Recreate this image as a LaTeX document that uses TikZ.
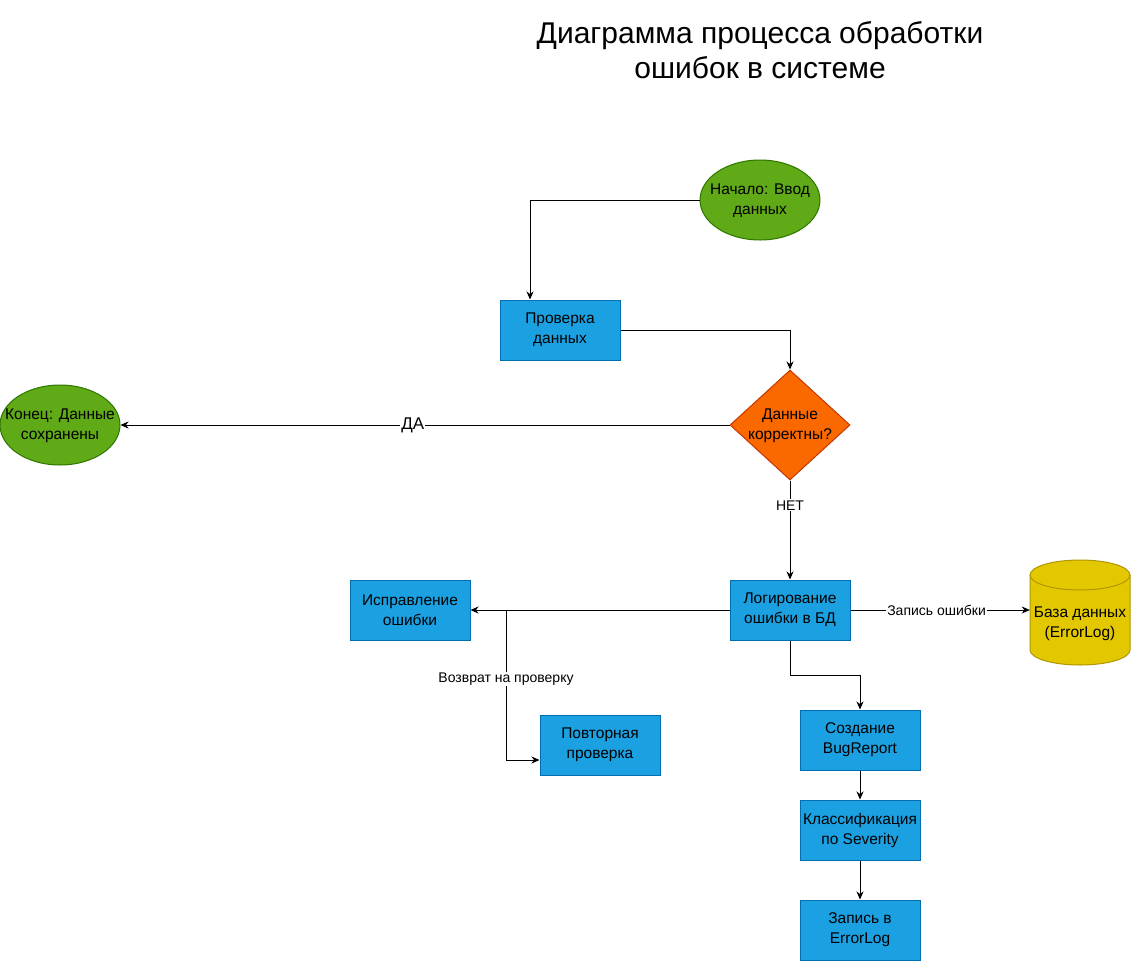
\documentclass[tikz,border=0pt]{standalone}
\usepackage{fontspec}
\setmainfont{Liberation Sans}
\usetikzlibrary{shapes.geometric,arrows.meta}
\definecolor{gfill}{HTML}{60A917}\definecolor{gdraw}{HTML}{2D7600}
\definecolor{bfill}{HTML}{1BA1E2}\definecolor{bdraw}{HTML}{006EAF}
\definecolor{ofill}{HTML}{FA6800}\definecolor{odraw}{HTML}{C73500}
\definecolor{yfill}{HTML}{E3C800}\definecolor{ydraw}{HTML}{B09500}
\tikzset{
  txt/.style={font=\fontsize{15.5}{20}\selectfont, align=center, inner sep=0pt},
  box/.style={draw=bdraw, fill=bfill, line width=1pt, minimum width=120pt, minimum height=60pt, inner sep=0pt, txt},
  term/.style={ellipse, draw=gdraw, fill=gfill, line width=1pt, minimum width=120pt, minimum height=80pt, inner sep=0pt},
  decision/.style={diamond, draw=odraw, fill=ofill, line width=1pt, minimum width=120pt, minimum height=110pt, inner sep=0pt},
  dbshape/.style={fill=yfill, draw=ydraw, line width=1pt},
  arr/.style={line width=1pt, -{Stealth[length=8pt,width=7pt,inset=2.5pt]}},
  elabel/.style={fill=white, inner sep=1pt, font=\fontsize{14}{17}\selectfont},
}
\begin{document}
\begin{tikzpicture}[x=1pt, y=-1pt]
\useasboundingbox (0,0) rectangle (1131,961);
\node[align=center, font=\fontsize{30}{35}\selectfont] (title) at (760,50) {Диаграмма процесса обработки\\ошибок в системе};
\node[term, label={[txt, yshift=-1pt]center:Начало: Ввод\\данных}] (start) at (760,200) {};
\node[box] (check) at (560,330) {Проверка\\данных};
\node[decision, label={[txt, yshift=-1pt]center:Данные\\корректны?}] (dec) at (790,425) {};
\node[term, label={[txt, yshift=-1pt]center:Конец: Данные\\сохранены}] (end) at (60,425) {};
\node[box] (log) at (790,610) {Логирование\\ошибки в БД};
% database cylinder
\path[dbshape] (1030,575) -- (1030,650) arc[start angle=180, end angle=0, x radius=50, y radius=15]
  -- (1130,575) arc[start angle=0, end angle=-180, x radius=50, y radius=15] -- cycle;
\draw[ydraw, line width=1pt] (1030,575) arc[start angle=180, end angle=0, x radius=50, y radius=15];
\node[minimum width=100pt, minimum height=100pt, inner sep=0pt, label={[txt, yshift=-14pt]center:База данных\\(ErrorLog)}] (base) at (1080,610) {};
\node[box] (fix) at (410,610) {Исправление\\ошибки};
\node[box] (retry) at (600,745) {Повторная\\проверка};
\node[box] (bug) at (860,740) {Создание\\BugReport};
\node[box] (cls) at (860,830) {Классификация\\по Severity};
\node[box] (rec) at (860,930) {Запись в\\ErrorLog};
\coordinate (j) at (506,610);

\draw[arr] (start.west) -| ([xshift=-30pt]check.north);
\draw[arr] (check.east) -| (dec.north);
\draw[arr] (dec.west) -- node[elabel, pos=0.52, font=\fontsize{17}{20}\selectfont]{ДА} (end.east);
\draw[arr] (dec.south) -- node[elabel, pos=0.25]{НЕТ} (log.north);
\draw[arr] (log.east) -- node[elabel, pos=0.48]{Запись ошибки} (base.west);
\draw[arr] (log.west) -- (fix.east);
\draw[arr] (j) |- node[elabel, pos=0.23]{Возврат на проверку} ([yshift=-15pt]retry.west);
\draw[arr] (log.south) -- ++(0,35) -| (bug.north);
\draw[arr] (bug.south) -- (cls.north);
\draw[arr] (cls.south) -- (rec.north);
\end{tikzpicture}
\end{document}
